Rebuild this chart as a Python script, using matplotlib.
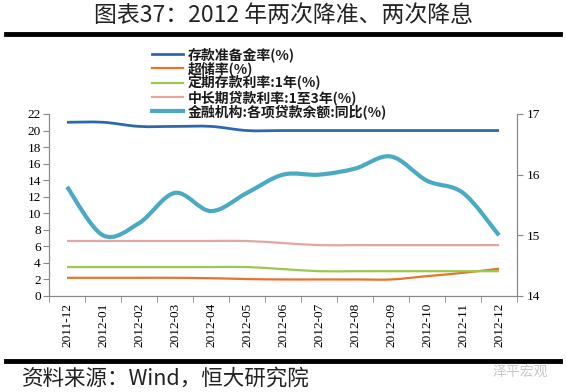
import matplotlib
matplotlib.use("Agg")
import matplotlib.pyplot as plt
import numpy as np
from matplotlib.path import Path
from matplotlib.patches import PathPatch
from matplotlib.lines import Line2D

plt.rcParams['font.family'] = ['Liberation Serif', 'Noto Sans CJK SC', 'DejaVu Sans']

months = ["2011-12", "2012-01", "2012-02", "2012-03", "2012-04", "2012-05", "2012-06",
          "2012-07", "2012-08", "2012-09", "2012-10", "2012-11", "2012-12"]
rrr = [21.0, 21.0, 20.5, 20.5, 20.5, 20.0, 20.0, 20.0, 20.0, 20.0, 20.0, 20.0, 20.0]
excess = [2.2, 2.2, 2.2, 2.2, 2.15, 2.05, 2.0, 2.0, 2.0, 2.0, 2.4, 2.8, 3.3]
deposit_1y = [3.5, 3.5, 3.5, 3.5, 3.5, 3.5, 3.25, 3.0, 3.0, 3.0, 3.0, 3.0, 3.0]
loan_1_3y = [6.65, 6.65, 6.65, 6.65, 6.65, 6.65, 6.4, 6.15, 6.15, 6.15, 6.15, 6.15, 6.15]
loan_growth = [15.8, 15.0, 15.2, 15.7, 15.4, 15.7, 16.0, 16.0, 16.1, 16.3, 15.9, 15.7, 15.0]

labels = ["存款准备金率(%)", "超储率(%)", "定期存款利率:1年(%)",
          "中长期贷款利率:1至3年(%)", "金融机构:各项贷款余额:同比(%)"]
colors = ["#2E69B0", "#E8732C", "#9BC84F", "#E2A6A4", "#4AAAC4"]
widths = [2.0, 1.6, 1.6, 1.6, 3.0]

W, H = 566, 392
fig = plt.figure(figsize=(W / 100, H / 100), dpi=100)


def smooth_path(x, y):
    x = np.asarray(x, float)
    y = np.asarray(y, float)
    n = len(x)
    verts = [(x[0], y[0])]
    codes = [Path.MOVETO]
    for i in range(n - 1):
        x0, y0 = (x[i - 1], y[i - 1]) if i > 0 else (x[i], y[i])
        x3, y3 = (x[i + 2], y[i + 2]) if i + 2 < n else (x[i + 1], y[i + 1])
        c1 = (x[i] + (x[i + 1] - x0) / 6, y[i] + (y[i + 1] - y0) / 6)
        c2 = (x[i + 1] - (x3 - x[i]) / 6, y[i + 1] - (y3 - y[i]) / 6)
        verts += [c1, c2, (x[i + 1], y[i + 1])]
        codes += [Path.CURVE4] * 3
    return Path(verts, codes)


ax = fig.add_axes([49 / W, 1 - 296 / H, (517 - 49) / W, (296 - 114) / H])
ax2 = ax.twinx()

xs = np.arange(len(months))
series_left = [rrr, excess, deposit_1y, loan_1_3y]
for s, c, lw in zip(series_left, colors[:4], widths[:4]):
    ax.add_patch(PathPatch(smooth_path(xs, s), fill=False, edgecolor=c, lw=lw,
                           capstyle='butt', joinstyle='round'))
ax2.add_patch(PathPatch(smooth_path(xs, loan_growth), fill=False, edgecolor=colors[4],
                        lw=widths[4], capstyle='butt', joinstyle='round'))

ax.set_xlim(-0.5, len(months) - 0.5)
ax.set_ylim(0, 22)
ax.set_yticks(np.arange(0, 23, 2))
ax2.set_ylim(14, 17)
ax2.set_yticks([14, 15, 16, 17])

ax.set_xticks(xs)
ax.set_xticklabels(months, rotation=90, fontsize=9.5)
ax.set_xticks(np.arange(-0.5, len(months), 1), minor=True)
ax.tick_params(axis='x', which='major', length=0, pad=5)
ax.tick_params(axis='x', which='minor', length=4, direction='out', color='#888888')
ax.tick_params(axis='y', length=4, direction='out', color='#888888', labelsize=9.5, pad=2)
ax2.tick_params(axis='y', length=4, direction='out', color='#888888', labelsize=9.5, pad=3)

for a in (ax, ax2):
    a.spines['top'].set_visible(False)
    for sp in ('left', 'right', 'bottom'):
        a.spines[sp].set_color('#888888')
        a.spines[sp].set_linewidth(0.8)
ax.patch.set_alpha(0)

handles = [Line2D([], [], color=c, lw=lw) for c, lw in zip(colors, widths)]
leg = fig.legend(handles, labels, loc='upper left', bbox_to_anchor=(152 / W, 1 - 47 / H),
                 frameon=False, borderpad=0, borderaxespad=0, handlelength=2.2,
                 handletextpad=0.35, labelspacing=-0.05,
                 prop={'family': ['Noto Sans CJK SC'], 'weight': 'bold', 'size': 10})
for t in leg.get_texts():
    t.set_color('#1a1a1a')

# title and decorations
fig.text(284 / W, 1 - 16 / H, "图表37：2012 年两次降准、两次降息", ha='center', va='center',
         fontsize=16.5, family=['Noto Sans CJK SC'], color='#222222')
fig.add_artist(Line2D([6 / W, 560 / W], [1 - 34 / H, 1 - 34 / H], color='black', lw=3.5))
fig.add_artist(Line2D([6 / W, 560 / W], [1 - 361 / H, 1 - 361 / H], color='black', lw=3.5))
fig.text(22 / W, 1 - 379 / H, "资料来源：Wind，恒大研究院", ha='left', va='center',
         fontsize=15.5, family=['Noto Sans CJK SC'], color='#222222')
fig.text(548 / W, 1 - 372 / H, "泽平宏观", ha='right', va='center',
         fontsize=10, family=['Noto Sans CJK SC'], color='#c8c8c8')

fig.savefig("out.png", dpi=100)
